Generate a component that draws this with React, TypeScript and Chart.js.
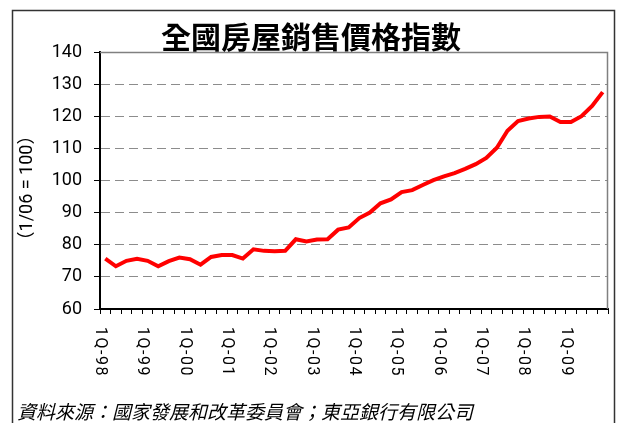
import { useEffect, useRef } from "react";
import { Chart, registerables } from "chart.js";

Chart.register(...registerables);

const TITLE = "全國房屋銷售價格指數";
const Y_TITLE = "（1/06 = 100）";
const SOURCE = "資料來源：國家發展和改革委員會；東亞銀行有限公司";

const quarters = [
  "1Q-98", "2Q-98", "3Q-98", "4Q-98",
  "1Q-99", "2Q-99", "3Q-99", "4Q-99",
  "1Q-00", "2Q-00", "3Q-00", "4Q-00",
  "1Q-01", "2Q-01", "3Q-01", "4Q-01",
  "1Q-02", "2Q-02", "3Q-02", "4Q-02",
  "1Q-03", "2Q-03", "3Q-03", "4Q-03",
  "1Q-04", "2Q-04", "3Q-04", "4Q-04",
  "1Q-05", "2Q-05", "3Q-05", "4Q-05",
  "1Q-06", "2Q-06", "3Q-06", "4Q-06",
  "1Q-07", "2Q-07", "3Q-07", "4Q-07",
  "1Q-08", "2Q-08", "3Q-08", "4Q-08",
  "1Q-09", "2Q-09", "3Q-09", "4Q-09",
];

const priceIndex = [
  75.7, 73.3, 75.0, 75.6,
  75.0, 73.3, 74.9, 76.0,
  75.5, 73.8, 76.2, 76.8,
  76.8, 75.7, 78.6, 78.1,
  78.0, 78.1, 81.7, 81.0,
  81.6, 81.7, 84.7, 85.4,
  88.3, 90.0, 92.9, 94.1,
  96.4, 97.0, 98.6, 100.1,
  101.3, 102.3, 103.6, 105.1,
  107.0, 110.2, 115.5, 118.5,
  119.3, 119.8, 119.9, 118.2,
  118.2, 120.0, 123.2, 127.5,
];

const yearTickLabels = [
  "1Q-98", "1Q-99", "1Q-00", "1Q-01", "1Q-02", "1Q-03",
  "1Q-04", "1Q-05", "1Q-06", "1Q-07", "1Q-08", "1Q-09",
];

const Y_MIN = 60;
const Y_MAX = 140;
const Y_STEP = 10;

const overlay = {
  id: "overlay",
  beforeDraw(chart: any) {
    const { ctx, width, height } = chart;
    ctx.save();
    ctx.fillStyle = "#fff";
    ctx.fillRect(0, 0, width, height);
    ctx.restore();
  },
  beforeDatasetsDraw(chart: any) {
    const { ctx, chartArea: ca } = chart;
    ctx.save();
    ctx.strokeStyle = "#808080";
    ctx.lineWidth = 1.5;
    ctx.beginPath();
    ctx.moveTo(ca.left, ca.top + 0.5);
    ctx.lineTo(ca.right - 0.5, ca.top + 0.5);
    ctx.lineTo(ca.right - 0.5, ca.bottom);
    ctx.stroke();
    ctx.restore();
  },
  afterDraw(chart: any) {
    const { ctx, scales } = chart;
    const x = scales.x;
    ctx.save();
    // outer frame
    ctx.strokeStyle = "#333";
    ctx.lineWidth = 1.5;
    ctx.strokeRect(12.5, 10.5, 602, 440);

    // title
    ctx.fillStyle = "#000";
    ctx.font = 'bold 30px "Noto Sans CJK TC"';
    ctx.textAlign = "center";
    ctx.textBaseline = "middle";
    ctx.fillText(TITLE, 311, 37);

    // y title
    ctx.save();
    ctx.translate(27, 188);
    ctx.rotate(-Math.PI / 2);
    ctx.font = '18px Roboto, "Noto Sans CJK TC"';
    ctx.textAlign = "center";
    ctx.textBaseline = "middle";
    ctx.fillText(Y_TITLE, 0, 0);
    ctx.restore();

    // x labels (rotated clockwise)
    const step = x.getPixelForValue(1) - x.getPixelForValue(0);
    yearTickLabels.forEach((lab) => {
      const idx = quarters.indexOf(lab);
      const px = x.getPixelForValue(idx) - step / 2;
      ctx.save();
      ctx.translate(px, 327);
      ctx.rotate(Math.PI / 2);
      ctx.font = "16px Roboto";
      (ctx as any).letterSpacing = "1.5px";
      ctx.textAlign = "left";
      ctx.textBaseline = "middle";
      ctx.fillText(lab, 0, 0);
      ctx.restore();
    });

    // source
    ctx.font = 'italic 19px "Noto Sans CJK TC"';
    ctx.textAlign = "left";
    ctx.textBaseline = "middle";
    ctx.fillText(SOURCE, 17, 412);
    ctx.restore();
  },
};

export default function App() {
  const ref = useRef<HTMLCanvasElement | null>(null);
  useEffect(() => {
    if (!ref.current) return;
    const chart = new Chart(ref.current, {
      type: "line",
      data: {
        labels: quarters,
        datasets: [
          {
            data: priceIndex,
            borderColor: "#ff0000",
            borderWidth: 4,
            pointRadius: 0,
            tension: 0,
            fill: false,
          },
        ],
      },
      options: {
        animation: false,
        responsive: false,
        devicePixelRatio: 1,
        layout: { padding: { left: 0, top: 52, right: 11, bottom: 0 } },
        plugins: {
          legend: { display: false },
          title: { display: false },
          tooltip: { enabled: false },
        },
        scales: {
          x: {
            type: "category",
            offset: true,
            grid: {
              display: true,
              drawOnChartArea: false,
              drawTicks: true,
              tickLength: 5,
              tickColor: "#000",
              tickWidth: 1,
              offset: true,
            },
            border: { display: true, color: "#000", width: 2 },
            ticks: { display: false, autoSkip: false },
            afterFit: (s: any) => {
              s.height = 114;
            },
          },
          y: {
            min: Y_MIN,
            max: Y_MAX,
            grid: {
              color: (c: any) =>
                c.tick && (c.tick.value === Y_MIN || c.tick.value === Y_MAX)
                  ? "rgba(0,0,0,0)"
                  : "#8c8c8c",
              lineWidth: 1,
              drawTicks: true,
              tickLength: 6,
              tickColor: "#000",
              tickWidth: 1,
            },
            border: { display: true, color: "#000", width: 2, dash: [9, 5] },
            ticks: {
              stepSize: Y_STEP,
              color: "#000",
              padding: 12,
              font: { family: "Roboto", size: 18 },
            },
            afterFit: (s: any) => {
              s.width = 100;
            },
          },
        },
      },
      plugins: [overlay],
    });
    return () => chart.destroy();
  }, []);
  return (
    <div style={{ position: "fixed", left: 0, top: 0, width: 619, height: 423 }}>
      <canvas ref={ref} width={619} height={423} style={{ width: 619, height: 423 }} />
    </div>
  );
}
